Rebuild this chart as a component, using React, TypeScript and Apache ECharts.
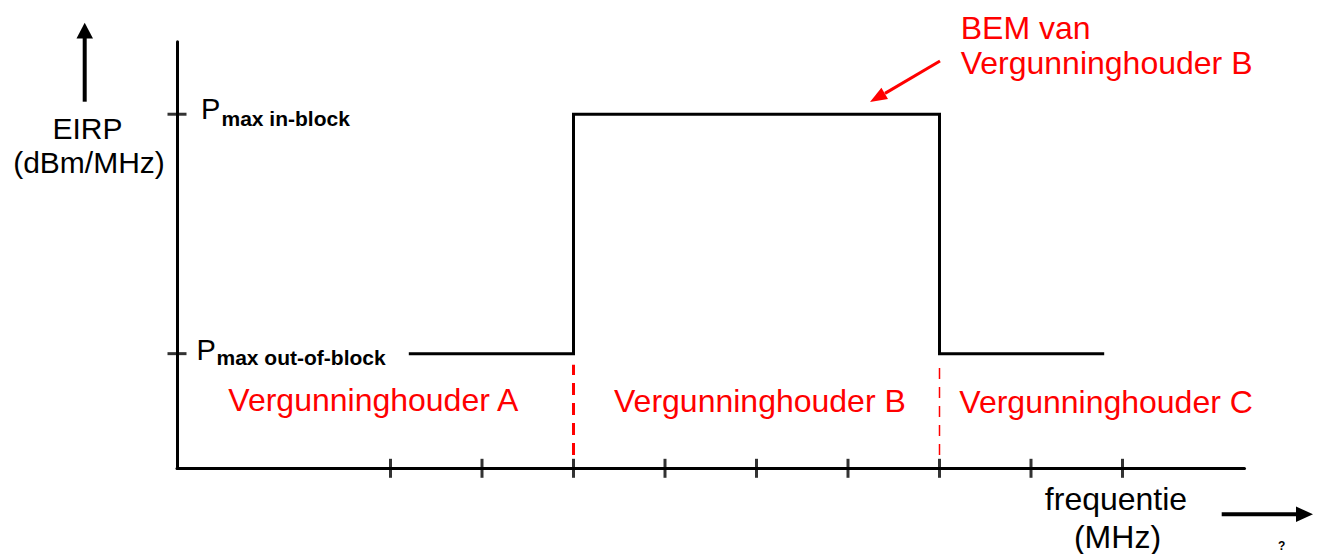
import React, { useEffect, useRef } from "react";
import * as echarts from "echarts";

// ---- data ----
const freqTicks = [7, 10, 13, 16, 19, 22, 25, 28, 31];
const xMax = 35;
const yMax = 40;
const levelValues = [10.75, 33.2]; // P max out-of-block, P max in-block
const maskX = [7.6, 13, 13, 25, 25, 30.4];
const maskY = [10.75, 10.75, 33.2, 33.2, 10.75, 10.75];
const blockEdges = [13, 25];
const dashSpan = [1.25, 9.7];
const levelMain = ["P", "P"];
const levelSubs = ["max out-of-block", "max in-block"];
const regionLabels = ["Vergunninghouder A", "Vergunninghouder B", "Vergunninghouder C"];
const yTitle = ["EIRP", "(dBm/MHz)"];
const xTitle = ["frequentie", "(MHz)"];
const calloutLines = ["BEM van", "Vergunninghouder B"];

const FONT = '"Liberation Sans", Arial, Helvetica, sans-serif';
const RED = "#ff0000";

function txt(text: string, x: number, y: number, size: number, opts: any = {}) {
  const align = opts.align || "left";
  return {
    type: "text",
    silent: true,
    style: {
      text,
      x,
      y,
      fill: opts.fill || "#000",
      fontSize: size,
      fontFamily: FONT,
      fontWeight: opts.bold ? "bold" : "normal",
      align,
      textAlign: align,
      verticalAlign: "middle",
      textVerticalAlign: "middle",
    },
  };
}

export default function App() {
  const ref = useRef<HTMLDivElement>(null);
  useEffect(() => {
    if (!ref.current) return;
    const chart = echarts.init(ref.current, null, { renderer: "svg" });

    const graphic: any[] = [
      // y-axis arrow
      { type: "line", silent: true, shape: { x1: 84.7, y1: 101.7, x2: 84.7, y2: 36 }, style: { stroke: "#000", lineWidth: 4 } },
      { type: "polygon", silent: true, shape: { points: [[84.7, 22.7], [76.5, 38.5], [93, 38.5]] }, style: { fill: "#000" } },
      // x-axis arrow
      { type: "line", silent: true, shape: { x1: 1221.7, y1: 514.3, x2: 1298, y2: 514.3 }, style: { stroke: "#000", lineWidth: 4 } },
      { type: "polygon", silent: true, shape: { points: [[1313, 514.3], [1296, 506.5], [1296, 522.1]] }, style: { fill: "#000" } },
      // red callout arrow
      { type: "line", silent: true, shape: { x1: 940, y1: 61, x2: 885, y2: 93.4 }, style: { stroke: RED, lineWidth: 3 } },
      { type: "polygon", silent: true, shape: { points: [[870, 102], [888, 99], [881.4, 87.8]] }, style: { fill: RED } },
      // titles
      txt(yTitle[0], 87.5, 128.5, 30, { align: "center" }),
      txt(yTitle[1], 89, 162, 30, { align: "center" }),
      txt(xTitle[0], 1116, 499, 32, { align: "center" }),
      txt(xTitle[1], 1117.5, 536.5, 32, { align: "center" }),
      txt("?", 1281.7, 545.5, 12, { align: "center", bold: true }),
      // level labels
      txt(levelMain[1], 201, 109, 29),
      txt(levelSubs[1], 221.5, 118.5, 21, { bold: true }),
      txt(levelMain[0], 196.5, 350, 29),
      txt(levelSubs[0], 216.5, 357.5, 21, { bold: true }),
      // region labels
      txt(regionLabels[0], 228.3, 400, 32, { fill: RED }),
      txt(regionLabels[1], 614, 401, 32, { fill: RED }),
      txt(regionLabels[2], 959.3, 402, 32, { fill: RED }),
      // callout
      txt(calloutLines[0], 960.7, 27.5, 32, { fill: RED }),
      txt(calloutLines[1], 960.7, 62.5, 32, { fill: RED }),
    ];

    chart.setOption({
      animation: false,
      backgroundColor: "#ffffff",
      grid: { left: 177, top: 41.7, width: xMax * 30.5, height: 426.6, containLabel: false, outerBoundsMode: "none" },
      xAxis: {
        type: "value",
        min: 0,
        max: xMax,
        axisLine: { show: true, onZero: false, lineStyle: { color: "#000", width: 3 } },
        axisTick: { show: false },
        axisLabel: { show: false },
        splitLine: { show: false },
      },
      yAxis: {
        type: "value",
        min: 0,
        max: yMax,
        axisLine: { show: true, onZero: false, lineStyle: { color: "#000", width: 3 } },
        axisTick: { show: false },
        axisLabel: { show: false },
        splitLine: { show: false },
      },
      series: [
        {
          type: "line",
          data: maskX.map((x, i) => [x, maskY[i]]),
          showSymbol: false,
          symbol: "none",
          lineStyle: { color: "#000", width: 3, join: "miter", cap: "butt" },
          z: 3,
        },
        {
          type: "line",
          data: dashSpan.map((y) => [blockEdges[0], y]),
          symbol: "none",
          lineStyle: { color: RED, width: 3, type: [12, 8] },
          z: 2,
        },
        {
          type: "line",
          data: dashSpan.map((y) => [blockEdges[1], y]),
          symbol: "none",
          lineStyle: { color: RED, width: 1.5, type: [11, 8] },
          z: 2,
        },
        {
          type: "scatter",
          data: freqTicks.map((x) => [x, 0]),
          symbol: "rect",
          symbolSize: [3, 19],
          itemStyle: { color: "#000" },
          clip: false,
          z: 4,
        },
        {
          type: "scatter",
          data: levelValues.map((y) => [0, y]),
          symbol: "rect",
          symbolSize: [19, 3],
          itemStyle: { color: "#000" },
          clip: false,
          z: 4,
        },
      ],
      graphic,
    });

    return () => chart.dispose();
  }, []);

  return (
    <div
      ref={ref}
      style={{ position: "fixed", left: 0, top: 0, width: 1322, height: 554, background: "#fff" }}
    />
  );
}
